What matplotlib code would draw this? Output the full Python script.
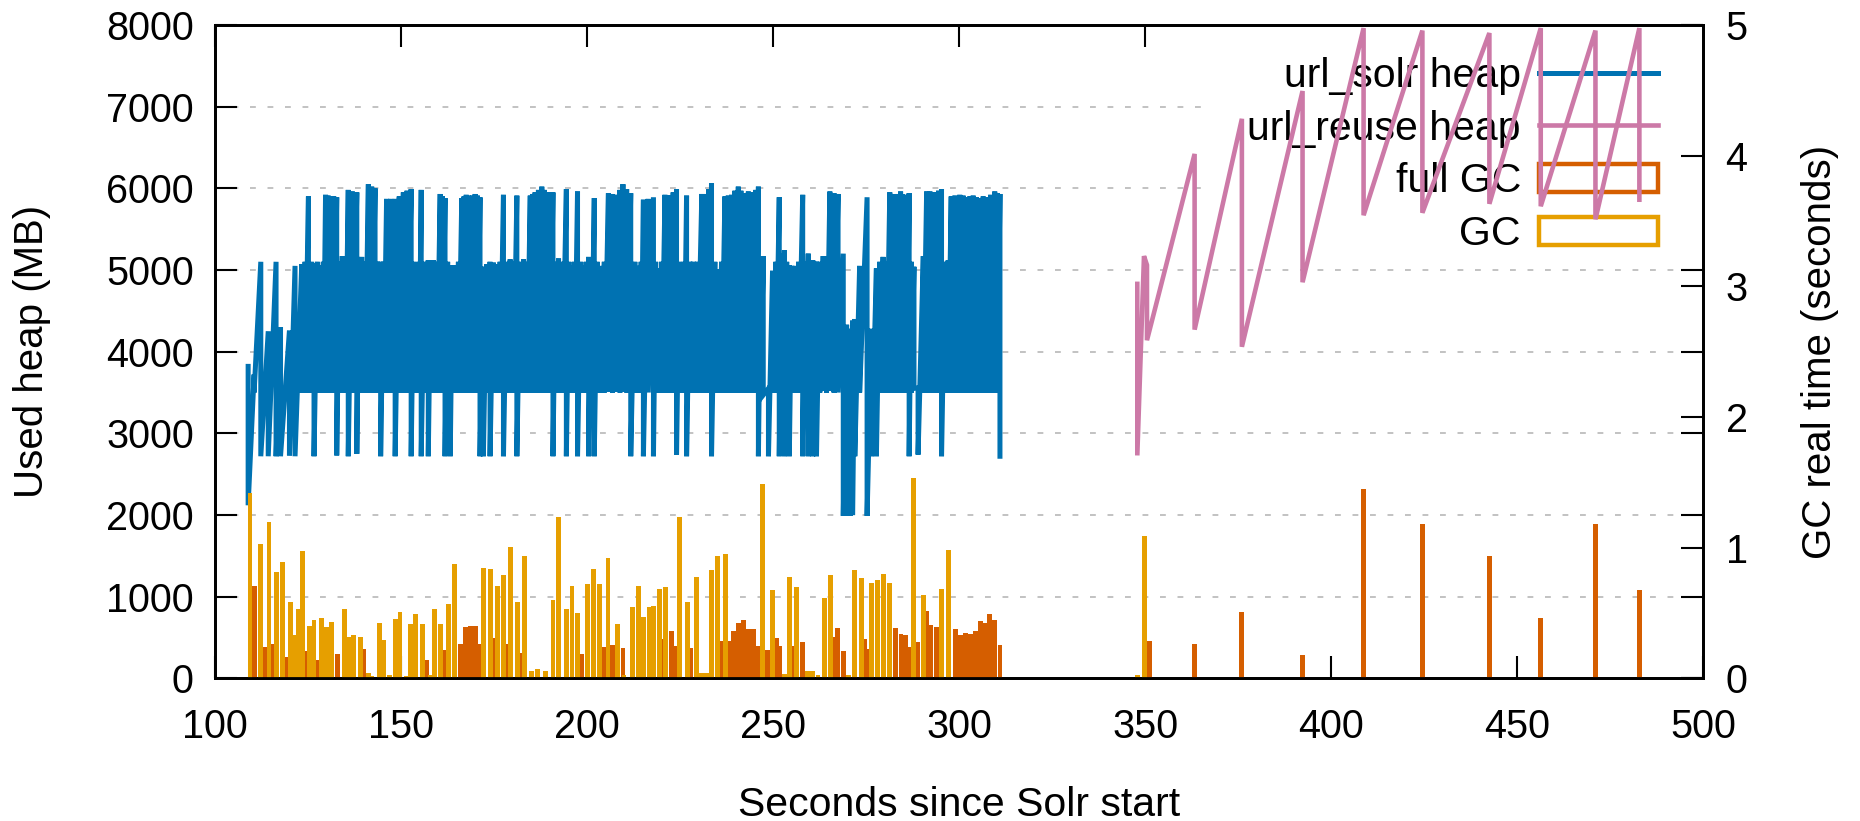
import numpy as np
import matplotlib
matplotlib.use("Agg")
import matplotlib.pyplot as plt
from matplotlib.lines import Line2D
from matplotlib.patches import Patch, Rectangle

plt.rcParams['font.family'] = ['Liberation Sans', 'DejaVu Sans']

# =========================
# Data
# =========================

# url_solr run: one entry per collection -> time (s), heap before / after (MB)
solr_gc_t = [109.0, 110.6, 112.4, 114.4, 116.5, 117.7, 120.1, 121.6, 123.4, 125.2,
             126.7, 128.6, 129.8, 131.2, 132.8, 134.3, 135.9, 138.2, 139.5, 141.3,
             143.1, 144.6, 146.2, 148.5, 150.7, 152.8, 154.3, 155.5, 157.4, 158.8,
             160.6, 161.9, 163.3, 164.6, 166.4, 167.6, 168.7, 170.0, 171.3, 172.2,
             174.0, 175.8, 177.6, 179.4, 181.2, 183.0, 184.8, 186.1, 187.9, 189.3,
             190.9, 192.4, 194.5, 196.0, 197.5, 199.3, 200.5, 202.0, 203.6, 205.8,
             208.1, 209.7, 211.8, 214.1, 215.2, 217.9, 219.2, 221.0, 222.3, 224.1,
             225.5, 226.8, 228.6, 230.9, 232.2, 233.5, 235.3, 237.1, 238.9, 240.7,
             242.1, 243.4, 244.7, 246.1, 247.4, 248.8, 249.9, 251.7, 253.1, 254.4,
             255.9, 258.0, 259.5, 260.7, 261.7, 263.5, 265.3, 267.5, 268.9, 270.7,
             272.0, 273.3, 275.3, 276.5, 277.8, 279.6, 281.4, 283.0, 284.3, 285.4,
             286.6, 287.9, 289.0, 290.4, 292.2, 293.8, 295.3, 297.1, 297.9, 298.9,
             299.6, 300.2, 301.1, 302.0, 302.9, 303.8, 304.7, 305.6, 306.5, 307.4,
             308.5, 309.6, 310.3, 311.0]
solr_before = [3820, 3720, 5100, 4250, 5100, 4300, 4260, 5050, 5070, 5900,
               5080, 5060, 5920, 5900, 5890, 5170, 5980, 5950, 5160, 6050,
               6000, 5100, 5870, 5870, 5950, 5990, 5080, 5980, 5120, 5120,
               5930, 5880, 5050, 5060, 5880, 5920, 5900, 5930, 5890, 5040,
               5100, 5070, 5920, 5130, 5910, 5130, 5910, 5950, 6020, 5950,
               5950, 5140, 5990, 5050, 5960, 5050, 5160, 5880, 5050, 5940,
               5920, 6050, 5940, 5050, 5860, 5890, 5020, 5920, 5910, 5990,
               5050, 5910, 5100, 5930, 5930, 6060, 5010, 5900, 5920, 6020,
               5920, 5960, 5940, 6020, 5170, 3550, 4990, 5890, 5240, 5060,
               5050, 5920, 5200, 5120, 5100, 5170, 5960, 5930, 5200, 4280,
               4400, 5050, 5890, 4280, 5020, 5160, 5950, 5910, 5960, 5910,
               5940, 5040, 3560, 5170, 5960, 5950, 5990, 5120, 5900, 5910,
               5900, 5920, 5910, 5890, 5900, 5910, 5890, 5880, 5900, 5890,
               5920, 5960, 5940, 5930]
solr_after = [2120, 3500, 2720, 2720, 2720, 2720, 2730, 2720, 3500, 3500,
              2720, 3500, 3500, 3500, 2730, 3500, 2720, 2750, 3500, 3500,
              3500, 2720, 3500, 2720, 3500, 2720, 3500, 2720, 2720, 3500,
              3500, 2720, 2720, 3500, 3500, 3500, 3500, 3500, 2720, 2720,
              2720, 3500, 2720, 3500, 2720, 3500, 3500, 3500, 3500, 3500,
              2720, 3500, 2720, 3500, 2720, 3500, 2720, 2720, 3500, 3510,
              3510, 3510, 2720, 3500, 2720, 2720, 3500, 3500, 3500, 2740,
              3500, 2720, 3500, 3500, 3510, 2720, 3500, 3500, 3500, 3500,
              3500, 3500, 3500, 2720, 3470, 2720, 3500, 2720, 2720, 2720,
              3500, 2720, 2720, 2720, 2720, 3520, 3520, 3500, 1990, 1990,
              2720, 3500, 1990, 2720, 2720, 3500, 3500, 3500, 3500, 3500,
              2720, 3550, 2740, 3500, 3500, 3500, 2720, 3500, 3500, 3500,
              3500, 3500, 3500, 3500, 3500, 3500, 3500, 3500, 3500, 3500,
              3500, 3500, 3500, 2720]

# smaller collections in between the ones above (fill the dense band)
minor_gc_t = [124.3, 126.0, 127.6, 129.2, 130.5, 132.0, 133.5, 135.1, 137.0, 138.8,
              140.4, 142.2, 143.8, 145.4, 147.3, 149.6, 151.7, 153.5, 154.9, 156.4,
              158.1, 159.7, 161.2, 162.6, 163.9, 165.5, 167.0, 168.1, 169.3, 170.6,
              173.1, 174.9, 176.7, 178.5, 180.3, 182.1, 183.9, 185.4, 187.0, 188.6,
              190.1, 191.6, 193.4, 195.2, 196.7, 198.4, 199.9, 201.2, 202.8, 204.7,
              206.9, 208.9, 210.7, 212.9, 214.6, 216.5, 218.5, 220.1, 221.6, 223.2,
              224.8, 226.1, 227.7, 229.7, 231.5, 232.8, 234.4, 236.2, 238.0, 239.8,
              241.4, 242.7, 244.0, 245.4, 246.7, 250.8, 252.4, 253.7, 255.1, 256.9,
              258.7, 260.1, 261.2, 262.6, 264.4, 266.4, 269.8, 271.4, 278.7, 280.5,
              282.2, 283.6, 284.8, 286.0, 287.2, 291.3, 293.0, 294.5, 296.2]
minor_before = [5100, 5100, 5100, 5100, 5910, 5900, 5100, 5100, 5960, 5100,
                5100, 6020, 5100, 5100, 5870, 5900, 5970, 5100, 5100, 5100,
                5120, 5100, 5900, 5100, 5060, 5100, 5900, 5910, 5910, 5910,
                5070, 5090, 5100, 5100, 5100, 5100, 5100, 5930, 5980, 5980,
                5950, 5100, 5100, 5100, 5100, 5100, 5100, 5100, 5100, 5100,
                5930, 5980, 5990, 5100, 5100, 5870, 5100, 5100, 5910, 5950,
                5100, 5100, 5100, 5100, 5930, 5990, 5100, 5100, 5910, 5970,
                5970, 5940, 5950, 5980, 5100, 5100, 5200, 5100, 5050, 5100,
                5100, 5120, 5100, 5100, 5170, 5940, 4330, 4380, 5100, 5100,
                5930, 5930, 5930, 5920, 5100, 5960, 5950, 5970, 5100]
minor_after = [3500] * 86 + [1990, 2000] + [3500] * 11

# url_reuse run heap trace (s, MB)
reuse_t = [347.9, 347.9, 349.7, 350.5, 350.5, 363.3, 363.3, 376.0, 376.0,
           392.3, 392.3, 408.7, 408.7, 424.5, 424.5, 442.5, 442.5,
           456.3, 456.3, 471.0, 471.0, 482.8, 482.8]
reuse_mb = [4830, 2730, 5170, 5060, 4140, 6420, 4270, 6850, 4060,
            7190, 4850, 7960, 5670, 7930, 5700, 7900, 5810,
            7960, 5780, 7930, 5620, 7960, 5860]

# young GC pauses (s, seconds of real time)
gc_t = [109.5, 112.4, 114.6, 116.7, 118.3, 120.4, 121.6, 122.5, 123.6, 125.4,
        126.7, 128.8, 130.1, 131.5, 134.8, 136.1, 137.4, 139.1, 141.3, 142.2,
        144.3, 145.5, 146.9, 148.5, 149.8, 151.4, 152.7, 154.0, 155.9, 157.9,
        159.0, 160.6, 162.8, 164.4, 172.2, 174.2, 176.0, 177.6, 179.4, 181.4,
        183.2, 185.2, 186.8, 188.8, 190.9, 192.4, 194.5, 196.0, 197.5, 200.2,
        201.8, 203.4, 205.7, 208.3, 210.0, 212.3, 213.8, 215.2, 216.7, 218.0,
        219.5, 221.2, 225.0, 227.0, 229.5, 230.9, 232.2, 233.5, 235.2, 237.3,
        247.3, 249.9, 253.0, 254.4, 256.4, 259.3, 260.7, 262.1, 263.8, 265.5,
        270.2, 272.0, 273.8, 276.5, 278.1, 279.8, 281.4, 287.7, 290.5, 295.3,
        297.1, 348.0, 349.9]
gc_sec = [1.42, 1.025, 1.20, 0.816, 0.892, 0.586, 0.329, 0.528, 0.974, 0.405,
          0.446, 0.464, 0.395, 0.433, 0.533, 0.316, 0.329, 0.316, 0.04, 0.02,
          0.426, 0.298, 0.03, 0.456, 0.51, 0.02, 0.418, 0.497, 0.418, 0.03,
          0.533, 0.418, 0.566, 0.877, 0.847, 0.839, 0.706, 0.788, 1.007, 0.586,
          0.936, 0.056, 0.069, 0.061, 0.597, 1.237, 0.528, 0.706, 0.502, 0.719,
          0.839, 0.719, 0.918, 0.418, 0.03, 0.548, 0.706, 0.469, 0.546, 0.558,
          0.686, 0.699, 1.237, 0.586, 0.778, 0.043, 0.043, 0.826, 0.936, 0.949,
          1.484, 0.676, 0.038, 0.778, 0.699, 0.061, 0.061, 0.03, 0.612, 0.788,
          0.025, 0.826, 0.765, 0.727, 0.757, 0.796, 0.727, 1.535, 0.637, 0.688,
          0.979, 0.025, 1.09]

# full GC pauses
full_gc_t = [110.8, 113.3, 115.5, 119.3, 124.5, 127.9, 133.0, 140.1, 157.0, 161.7,
             166.0, 167.3, 168.7, 170.0, 171.2, 174.9, 178.7, 182.3, 198.7, 204.5,
             207.0, 209.7, 220.4, 222.8, 223.7, 228.0, 236.0, 238.2, 239.4, 240.7,
             242.0, 243.4, 244.7, 246.1, 248.6, 251.0, 251.9, 255.3, 258.0, 266.4,
             267.4, 268.9, 274.7, 275.6, 283.0, 284.4, 285.6, 286.5, 289.0, 291.4,
             292.3, 293.9, 299.1, 300.4, 301.7, 303.1, 304.4, 305.8, 307.1, 308.3,
             309.6, 311.0, 351.2, 363.3, 376.0, 392.3, 408.7, 424.5, 442.5, 456.3,
             471.0, 482.8]
full_gc_sec = [0.706, 0.24, 0.265, 0.166, 0.209, 0.145, 0.189, 0.227, 0.145, 0.217,
               0.265, 0.393, 0.405, 0.405, 0.265, 0.311, 0.265, 0.196, 0.184, 0.24,
               0.255, 0.235, 0.303, 0.367, 0.252, 0.235, 0.286, 0.286, 0.362, 0.426,
               0.444, 0.382, 0.382, 0.252, 0.217, 0.311, 0.247, 0.252, 0.278, 0.316,
               0.388, 0.209, 0.303, 0.222, 0.388, 0.337, 0.329, 0.242, 0.278, 0.515,
               0.408, 0.395, 0.382, 0.329, 0.349, 0.342, 0.367, 0.439, 0.426, 0.497,
               0.444, 0.255, 0.287, 0.26, 0.506, 0.178, 1.45, 1.18, 0.935, 0.465,
               1.18, 0.676]

x_ticks = [100, 150, 200, 250, 300, 350, 400, 450, 500]
y_ticks = [0, 1000, 2000, 3000, 4000, 5000, 6000, 7000, 8000]
y2_ticks = [0, 1, 2, 3, 4, 5]

BLUE = "#0072B2"
PINK = "#CC79A7"
DARK = "#D55E00"
ORANGE = "#E69F00"

# =========================
# Plot
# =========================

# all collections of the url_solr run, in time order
ev_t = np.concatenate([solr_gc_t, minor_gc_t])
ev_b = np.concatenate([solr_before, minor_before])
ev_a = np.concatenate([solr_after, minor_after])
order = np.argsort(ev_t, kind="stable")
ev_t, ev_b, ev_a = ev_t[order], ev_b[order], ev_a[order]

# heap before/after each collection -> step-like trace
solr_x = np.repeat(ev_t, 2)
solr_y = np.column_stack([ev_b, ev_a]).ravel()

fig = plt.figure(figsize=(18.6, 8.21), dpi=100)
ax = fig.add_axes([0.1154, 0.1736, 0.8004, 0.7961])
ax2 = ax.twinx()

ax.set_axisbelow(True)
ax.grid(axis="y", color="#b8b8b8", lw=1.2, ls=(0, (3.5, 7)))

# blank area behind the key (grid does not run through it)
ax.add_patch(Rectangle((0.664, 0.663), 0.336, 0.337, transform=ax.transAxes,
                       facecolor="white", edgecolor="none", zorder=0.8))

ax.plot(solr_x, solr_y, color=BLUE, lw=3.6, solid_joinstyle="miter", zorder=2)
ax.plot(reuse_t, reuse_mb, color=PINK, lw=3.3, solid_joinstyle="miter", zorder=2)

ax2.bar(full_gc_t, full_gc_sec, width=1.3, color=DARK, linewidth=0)
ax2.bar(gc_t, gc_sec, width=1.3, color=ORANGE, linewidth=0)

ax.set_xlim(100, 500)
ax.set_ylim(0, 8000)
ax2.set_ylim(0, 5)
ax.set_xticks(x_ticks)
ax.set_yticks(y_ticks)
ax2.set_yticks(y2_ticks)

tick_kw = dict(direction="in", length=16, width=1.5, labelsize=28.5)
ax.tick_params(axis="x", top=True, pad=21, **tick_kw)
ax.tick_params(axis="y", left=True, right=True, pad=15, **tick_kw)
ax2.tick_params(axis="y", right=True, pad=16, **tick_kw)

for a in (ax, ax2):
    for sp in a.spines.values():
        sp.set_linewidth(2.0)

fig.text(0.017, 0.5717, "Used heap (MB)", rotation=90, ha="center", va="center",
         fontsize=29)
fig.text(0.9785, 0.5717, "GC real time (seconds)", rotation=90, ha="center",
         va="center", fontsize=29)
fig.text(0.5157, 0.006, "Seconds since Solr start", ha="center", va="baseline",
         fontsize=29.5)

handles = [
    Line2D([], [], color=BLUE, lw=3.6),
    Line2D([], [], color=PINK, lw=3.3),
    Patch(facecolor="none", edgecolor=DARK, lw=3.2),
    Patch(facecolor="none", edgecolor=ORANGE, lw=3.2),
]
labels = ["url_solr heap", "url_reuse heap", "full GC", "GC"]
leg = ax.legend(handles, labels, loc="upper right", bbox_to_anchor=(0.9694, 0.951),
                frameon=False, markerfirst=False, fontsize=29.5, borderpad=0,
                borderaxespad=0, handlelength=2.9, handleheight=0.68,
                handletextpad=0.44, labelspacing=0.36)
leg.set_zorder(1)

fig.savefig("out.png", dpi=100)
